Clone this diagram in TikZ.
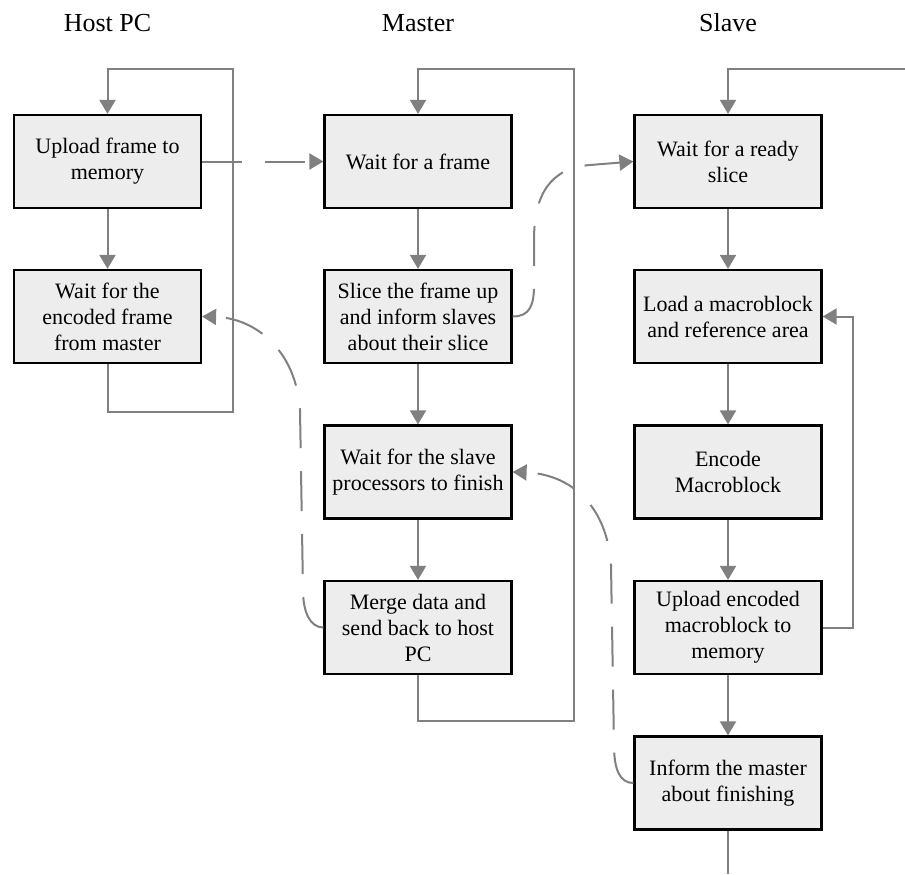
\documentclass[tikz,border=0pt]{standalone}
\usepackage{fontspec}
\setmainfont{Liberation Serif}
\usetikzlibrary{arrows.meta}
\definecolor{boxfill}{RGB}{237,237,237}
\definecolor{linegray}{RGB}{128,128,128}

\begin{document}
\begin{tikzpicture}[x=0.5pt,y=-0.5pt,
  stage/.style={draw=black,line width=1.1pt,fill=boxfill,minimum width=93.5pt,minimum height=46.5pt,inner sep=2pt,align=center,font=\fontsize{11}{13}\selectfont},
  head/.style={font=\fontsize{13}{15.6}\selectfont},
  link/.style={draw=linegray,line width=1pt},
  flow/.style={link,-{Triangle[length=7pt,width=8pt]}},
  msg/.style={flow,dash pattern=on 20pt off 11.5pt}]
  \useasboundingbox (0,0) rectangle (905,874);
  \node[head] (hhost) at (107.5,23) {Host PC};
  \node[head] (hmaster) at (418,23) {Master};
  \node[head] (hslave) at (728,23) {Slave};

  \node[stage] (hup) at (107.5,161.5) {Upload frame to\\memory};
  \node[stage] (hwait) at (107.5,316.5) {Wait for the\\encoded frame\\from master};

  \node[stage] (mwait) at (418,161.5) {Wait for a frame};
  \node[stage] (mslice) at (418,316.5) {Slice the frame up\\and inform slaves\\about their slice};
  \node[stage] (mfinish) at (418,472) {Wait for the slave\\processors to finish};
  \node[stage] (mmerge) at (418,627.5) {Merge data and\\send back to host\\PC};

  \node[stage] (swait) at (728,161.5) {Wait for a ready\\slice};
  \node[stage] (sload) at (728,316.5) {Load a macroblock\\and reference area};
  \node[stage] (sencode) at (728,472) {Encode\\Macroblock};
  \node[stage] (supload) at (728,627.5) {Upload encoded\\macroblock to\\memory};
  \node[stage] (sinform) at (728,783) {Inform the master\\about finishing};

  \coordinate (hlow) at (232.5,411.5);
  \coordinate (htop) at (232.5,69);
  \coordinate (mlow) at (573.5,721);
  \coordinate (mtop) at (573.5,69);
  \coordinate (sin) at (905,69);
  \coordinate (sout) at (728,874);
  \coordinate (sback) at (853,316.5);

  \foreach \a/\b in {hup/hwait,mwait/mslice,mslice/mfinish,mfinish/mmerge,swait/sload,sload/sencode,sencode/supload,supload/sinform}
    \draw[flow] (\a) -- (\b);

  \draw[flow] (hwait.south) |- (hlow) -- (htop) -| (hup.north);
  \draw[flow] (mmerge.south) |- (mlow) -- (mtop) -| (mwait.north);
  \draw[flow] (sin) -| (swait.north);
  \draw[link] (sinform.south) -- (sout);
  \draw[flow] (supload.east) -| (sback) -- (sload.east);

  \draw[msg] (hup.east) -- (mwait.west);
  \draw[msg] (mslice.east) .. controls (530,316.5) and (534,305) .. (534,285) -- (534,240)
    .. controls (534,195) and (550,168) .. (590,165) -- (swait.west);
  \draw[msg] (mmerge.west) .. controls (310,627.5) and (303,612) .. (303,590) -- (300,410)
    .. controls (296,350) and (255,318) .. (hwait.east);
  \draw[msg] (sinform.west) .. controls (620,783) and (614,770) .. (614,745) -- (611,565)
    .. controls (607,505) and (570,474) .. (mfinish.east);
\end{tikzpicture}
\end{document}
